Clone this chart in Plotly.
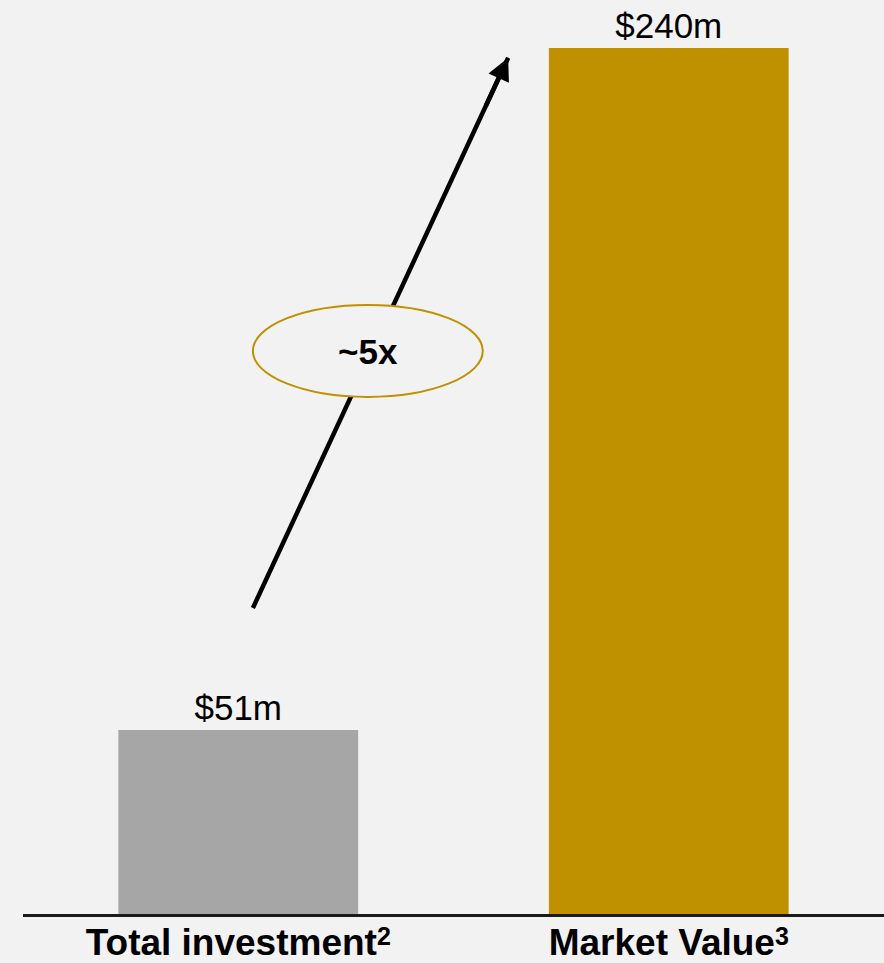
import plotly.graph_objects as go

categories = ["Total investment", "Market Value"]
footnotes = ["2", "3"]
values = [51, 240]
value_labels = ["$51m", "$240m"]
bar_colors = ["#A6A6A6", "#BF9000"]
multiple_label = "~5x"

BG = "#F2F2F2"
GOLD = "#BF9000"
FONT = "Liberation Sans, Arial, sans-serif"

x_idx = list(range(len(categories)))
tick_text = [
    f"<b>{c}<span style='font-size:25px;baseline-shift:10px'>{f}</span></b>"
    for c, f in zip(categories, footnotes)
]

fig = go.Figure()
fig.add_trace(go.Bar(
    x=x_idx, y=values, width=0.557,
    marker=dict(color=bar_colors, line=dict(width=0)),
    text=value_labels, textposition="outside",
    textfont=dict(family=FONT, size=35, color="#000000"),
    cliponaxis=False, hoverinfo="skip",
))

# arrow line from near first bar up towards second bar
tail = (0.034, 84.8)
tip = (0.627, 237.3)
LW = 4.5
fig.add_shape(type="line", xref="x", yref="y",
              x0=tail[0], y0=tail[1], x1=tip[0], y1=tip[1],
              line=dict(color="#000000", width=LW), layer="above")
# ellipse covering the arrow
fig.add_shape(type="circle", xref="x", yref="y",
              x0=0.034, x1=0.568, y0=143.3, y1=168.8,
              line=dict(color=GOLD, width=2), fillcolor=BG, layer="above")
# arrowhead aligned with the line direction (pixels: dx=255, dy=-550)
fig.add_annotation(x=tip[0], y=tip[1], ax=-0.09 * 255, ay=0.09 * 550,
                   xref="x", yref="y",
                   showarrow=True, arrowhead=2, arrowsize=1.0, arrowwidth=LW,
                   arrowcolor="#000000", text="", standoff=0)
fig.add_annotation(x=0.301, y=156.0, xref="x", yref="y", text=f"<b>{multiple_label}</b>",
                   showarrow=False, font=dict(family=FONT, size=35, color="#000000"))

fig.update_layout(
    width=884, height=963,
    margin=dict(l=23, r=0, t=0, b=49, autoexpand=False),
    paper_bgcolor=BG, plot_bgcolor=BG,
    showlegend=False,
    xaxis=dict(range=[-0.5, 1.5], tickvals=x_idx, ticktext=tick_text,
               tickfont=dict(family=FONT, size=37, color="#000000"),
               ticklabelstandoff=-6,
               showline=True, linecolor="#1a1a1a", linewidth=2.5, automargin=False,
               showgrid=False, zeroline=False, ticks="", fixedrange=True),
    yaxis=dict(range=[0, 253.3], visible=False, showgrid=False, zeroline=False,
               automargin=False),
)

fig.write_html("out.html")
